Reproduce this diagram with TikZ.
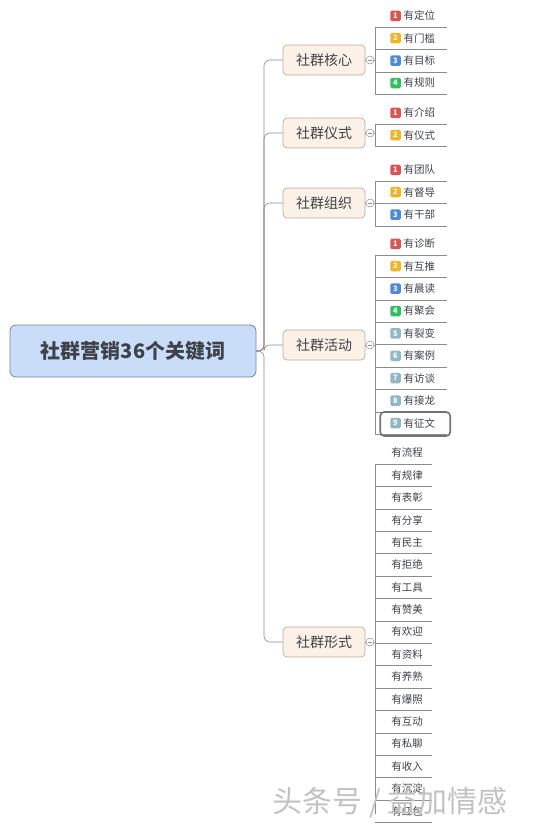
\documentclass[tikz,border=0pt]{standalone}
\usepackage{fontspec}
\setmainfont{Noto Sans CJK SC}
\usetikzlibrary{positioning}
\definecolor{cRoot}{RGB}{201,220,248}
\definecolor{cRootLine}{RGB}{112,132,170}
\definecolor{cBranch}{RGB}{252,241,231}
\definecolor{cBranchLine}{RGB}{186,172,158}
\definecolor{cLine}{RGB}{140,140,140}
\definecolor{cText}{RGB}{62,66,72}
\definecolor{cRed}{RGB}{224,82,80}
\definecolor{cYellow}{RGB}{243,180,36}
\definecolor{cBlue}{RGB}{76,136,224}
\definecolor{cGreen}{RGB}{46,192,94}
\definecolor{cGray}{RGB}{143,184,196}
\begin{document}
\begin{tikzpicture}[x=1pt, y=-1pt,
  root/.style={draw=cRootLine, fill=cRoot, rounded corners=6pt, line width=0.8pt,
    minimum width=246pt, minimum height=52pt, text=cText,
    font=\fontsize{20}{20}\selectfont\bfseries},
  branch/.style={draw=cBranchLine, fill=cBranch, rounded corners=4pt, line width=0.7pt,
    minimum width=82pt, minimum height=30pt, text=cText,
    font=\fontsize{14}{14}\selectfont},
  fold/.style={circle, draw=cLine, fill=white, inner sep=0pt, minimum size=8pt, line width=0.5pt},
  leaf/.style={anchor=south west, inner sep=0pt, minimum height=22pt},
  badge/.style={rounded corners=1.5pt, minimum size=10.5pt, inner sep=0pt, text=white,
    font=\fontsize{7.5}{7.5}\selectfont\bfseries},
  leaftext/.style={inner sep=0pt, text=cText, font=\fontsize{10.5}{10.5}\selectfont},
  link/.style={draw=cLine, line width=0.6pt},
  hilite/.style={draw=black!55, line width=1.6pt, rounded corners=4pt,
    minimum width=70pt, minimum height=24pt}]
\useasboundingbox (0,0) rectangle (535,830);

\node[root] (root) at (133,351) {社群营销36个关键词};
\coordinate (trunk) at (264,351);

\foreach \n/\y/\t in {core/60/社群核心, rite/133/社群仪式, org/203/社群组织,
                      act/345/社群活动, form/642/社群形式} {
  \node[branch] (\n) at (324,\y) {\t};
  \draw[link, rounded corners=6pt] (root.east) -- (trunk) |- (\n.west);
  \node[fold] (\n-f) at (370,\y) {};
  \draw[link] (\n.east) -- (\n-f.west);
  \draw[link, line width=0.4pt] ([xshift=-2pt]\n-f.center) -- ([xshift=2pt]\n-f.center);
}

% numbered leaves
\foreach \g/\y/\list in {
    core/27/{1/cRed/有定位, 2/cYellow/有门槛, 3/cBlue/有目标, 4/cGreen/有规则},
    rite/124/{1/cRed/有介绍, 2/cYellow/有仪式},
    org/181/{1/cRed/有团队, 2/cYellow/有督导, 3/cBlue/有干部},
    act/255/{1/cRed/有诊断, 2/cYellow/有互推, 3/cBlue/有晨读, 4/cGreen/有聚会,
             5/cGray/有裂变, 6/cGray/有案例, 7/cGray/有访谈, 8/cGray/有接龙, 9/cGray/有征文}} {
  \foreach \i/\c/\t in \list {
    \node[leaf, minimum width=72pt] (\g-\i) at (375,{\y+22.4*(\i-1)}) {};
    \node[badge, fill=\c] (\g-b\i) at ([xshift=20.5pt]\g-\i.west) {\i};
    \node[leaftext, right=2.5pt of \g-b\i] (\g-t\i) {\t};
    \draw[link] (\g-\i.south west) -- (\g-\i.south east);
  }
}
\foreach \g/\k in {core/4, rite/2, org/3, act/9} {
  \draw[link] (\g-1.south west) -- (\g-\k.south west);
  \draw[link] (\g-f.east) -- (\g-f.east -| \g-1.south west);
}
\node[hilite] (act-h) at ([xshift=4pt, yshift=-1pt]act-9.center) {};

% plain leaves
\foreach \i/\t in {1/有流程, 2/有规律, 3/有表彰, 4/有分享, 5/有民主, 6/有拒绝,
                   7/有工具, 8/有赞美, 9/有欢迎, 10/有资料, 11/有养熟, 12/有爆照,
                   13/有互动, 14/有私聊, 15/有收入, 16/有沉淀, 17/有红包} {
  \node[leaf, minimum width=57pt] (form-\i) at (375,{464+22.4*(\i-1)}) {};
  \node[leaftext] (form-t\i) at ([xshift=32pt]form-\i.west) {\t};
  \draw[link] (form-\i.south west) -- (form-\i.south east);
}
\draw[link] (form-1.south west) -- ([yshift=8pt]form-17.south west);
\draw[link] (form-f.east) -- (form-f.east -| form-1.south west);

\node[text=black!24, font=\fontsize{30}{30}\selectfont] (mark) at (390,803) {头条号 / 益加情感};
\end{tikzpicture}
\end{document}
